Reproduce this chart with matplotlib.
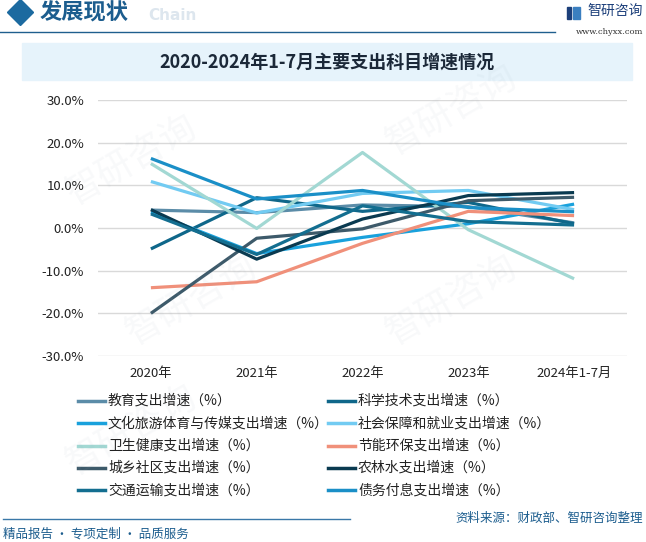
import matplotlib
matplotlib.use("Agg")
import matplotlib.pyplot as plt
from matplotlib.lines import Line2D
from matplotlib.patches import Rectangle

plt.rcParams['font.family'] = ['Noto Sans CJK SC', 'DejaVu Sans']

W, H = 646, 542

years = ['2020年', '2021年', '2022年', '2023年', '2024年1-7月']
yticks = [-30, -20, -10, 0, 10, 20, 30]

# growth rates (%)
edu = [4.2, 3.6, 5.4, 5.0, 1.2]
sci = [-4.9, 7.1, 3.9, 6.0, 1.0]
culture = [3.7, -6.0, -2.2, 1.0, 5.6]
social = [10.9, 3.5, 8.1, 8.8, 4.3]
health = [15.1, -0.1, 17.7, -0.4, -11.9]
energy = [-14.0, -12.6, -3.6, 3.9, 2.9]
urban = [-20.0, -2.4, -0.2, 6.4, 7.2]
farm = [4.3, -7.3, 2.1, 7.6, 8.3]
traffic = [3.3, -6.2, 5.2, 1.5, 0.7]
debt = [16.3, 6.8, 8.8, 4.8, 3.8]

series = [
    ('教育支出增速（%）', edu, '#5b8ca8'),
    ('科学技术支出增速（%）', sci, '#0f678a'),
    ('文化旅游体育与传媒支出增速（%）', culture, '#19a1dc'),
    ('社会保障和就业支出增速（%）', social, '#72cbf2'),
    ('卫生健康支出增速（%）', health, '#a2d8d3'),
    ('节能环保支出增速（%）', energy, '#f0907a'),
    ('城乡社区支出增速（%）', urban, '#3d5a6a'),
    ('农林水支出增速（%）', farm, '#0a3a50'),
    ('交通运输支出增速（%）', traffic, '#136e90'),
    ('债务付息支出增速（%）', debt, '#1a8fc7'),
]


def fx(px):
    return px / W


def fy(py):
    return 1 - py / H


fig = plt.figure(figsize=(W / 100, H / 100), dpi=100)

# faint watermarks
for (wx, wy) in [(60, 160), (380, 110), (60, 430), (380, 300), (120, 300)]:
    fig.text(fx(wx), fy(wy), '智研咨询', fontsize=26, color='#9aa8b8', alpha=0.07,
             rotation=30, ha='left', va='center')

# header
fig.add_artist(Line2D([fx(20)], [fy(12)], marker='D', markersize=13,
                      color='#1c6aa0', transform=fig.transFigure))
fig.text(fx(40), fy(13), '发展现状', fontsize=16, fontweight='bold', color='#1c5d8e',
         va='center', ha='left')
fig.text(fx(148), fy(16), 'Chain', fontsize=11, fontweight='bold', color='#dde6ee',
         va='center', ha='left', family='DejaVu Sans')
fig.add_artist(Line2D([fx(0), fx(555)], [fy(32), fy(32)], color='#1f5f8e', lw=1.0,
                      transform=fig.transFigure))
fig.add_artist(Rectangle((fx(567), fy(19)), 4 / W, 12 / H, color='#1c3f7a',
                         transform=fig.transFigure))
fig.add_artist(Rectangle((fx(573), fy(19)), 7 / W, 12 / H, color='#3a7fc0',
                         transform=fig.transFigure))
fig.text(fx(587), fy(11), '智研咨询', fontsize=10, color='#1c3f7a', va='center', ha='left')
fig.text(fx(643), fy(32), 'www.chyxx.com', fontsize=6, color='#333333', va='center',
         ha='right', family='DejaVu Serif')

# title box
fig.add_artist(Rectangle((fx(22), fy(80)), (632 - 22) / W, (80 - 43) / H,
                         color='#e6f3fb', transform=fig.transFigure))
fig.text(fx(327), fy(62), '2020-2024年1-7月主要支出科目增速情况', fontsize=13,
         fontweight='bold', color='#1b2838', ha='center', va='center')

# plot
ax = fig.add_axes([fx(98), fy(356), (627 - 98) / W, (356 - 100) / H])
x = list(range(len(years)))
for name, vals, col in series:
    ax.plot(x, vals, color=col, lw=2.3, solid_capstyle='butt', label=name)

ax.set_xlim(-0.5, len(years) - 0.5)
ax.set_ylim(-30, 30)
ax.set_yticks(yticks)
ax.set_yticklabels([f'{v:.1f}%' for v in yticks])
ax.set_xticks(x)
ax.set_xticklabels(years)
ax.tick_params(length=0, labelsize=9.5, colors='#222222')
ax.tick_params(axis='x', pad=8)
ax.tick_params(axis='y', pad=10)
ax.grid(axis='y', color='#d9d9d9', lw=1)
ax.set_axisbelow(True)
for s in ax.spines.values():
    s.set_visible(False)
ax.patch.set_alpha(0)

# legend, two columns
for i, (name, vals, col) in enumerate(series):
    col_i = i % 2
    row = i // 2
    lx = 78 if col_i == 0 else 328
    ly = 401 + row * 22.3
    fig.add_artist(Line2D([fx(lx), fx(lx + 27)], [fy(ly), fy(ly)], color=col, lw=2.5,
                          transform=fig.transFigure))
    fig.text(fx(lx + 30), fy(ly), name, fontsize=10, color='#222222', va='center', ha='left')

# footer
fig.add_artist(Line2D([fx(3), fx(350)], [fy(519), fy(519)], color='#3a78a8', lw=1.0,
                      transform=fig.transFigure))
fig.text(fx(3), fy(534), '精品报告 · 专项定制 · 品质服务', fontsize=9, color='#1c5d8e',
         va='center', ha='left')
fig.text(fx(643), fy(518), '资料来源：财政部、智研咨询整理', fontsize=9, color='#1c5d8e',
         va='center', ha='right')

fig.savefig('out.png', dpi=100)
